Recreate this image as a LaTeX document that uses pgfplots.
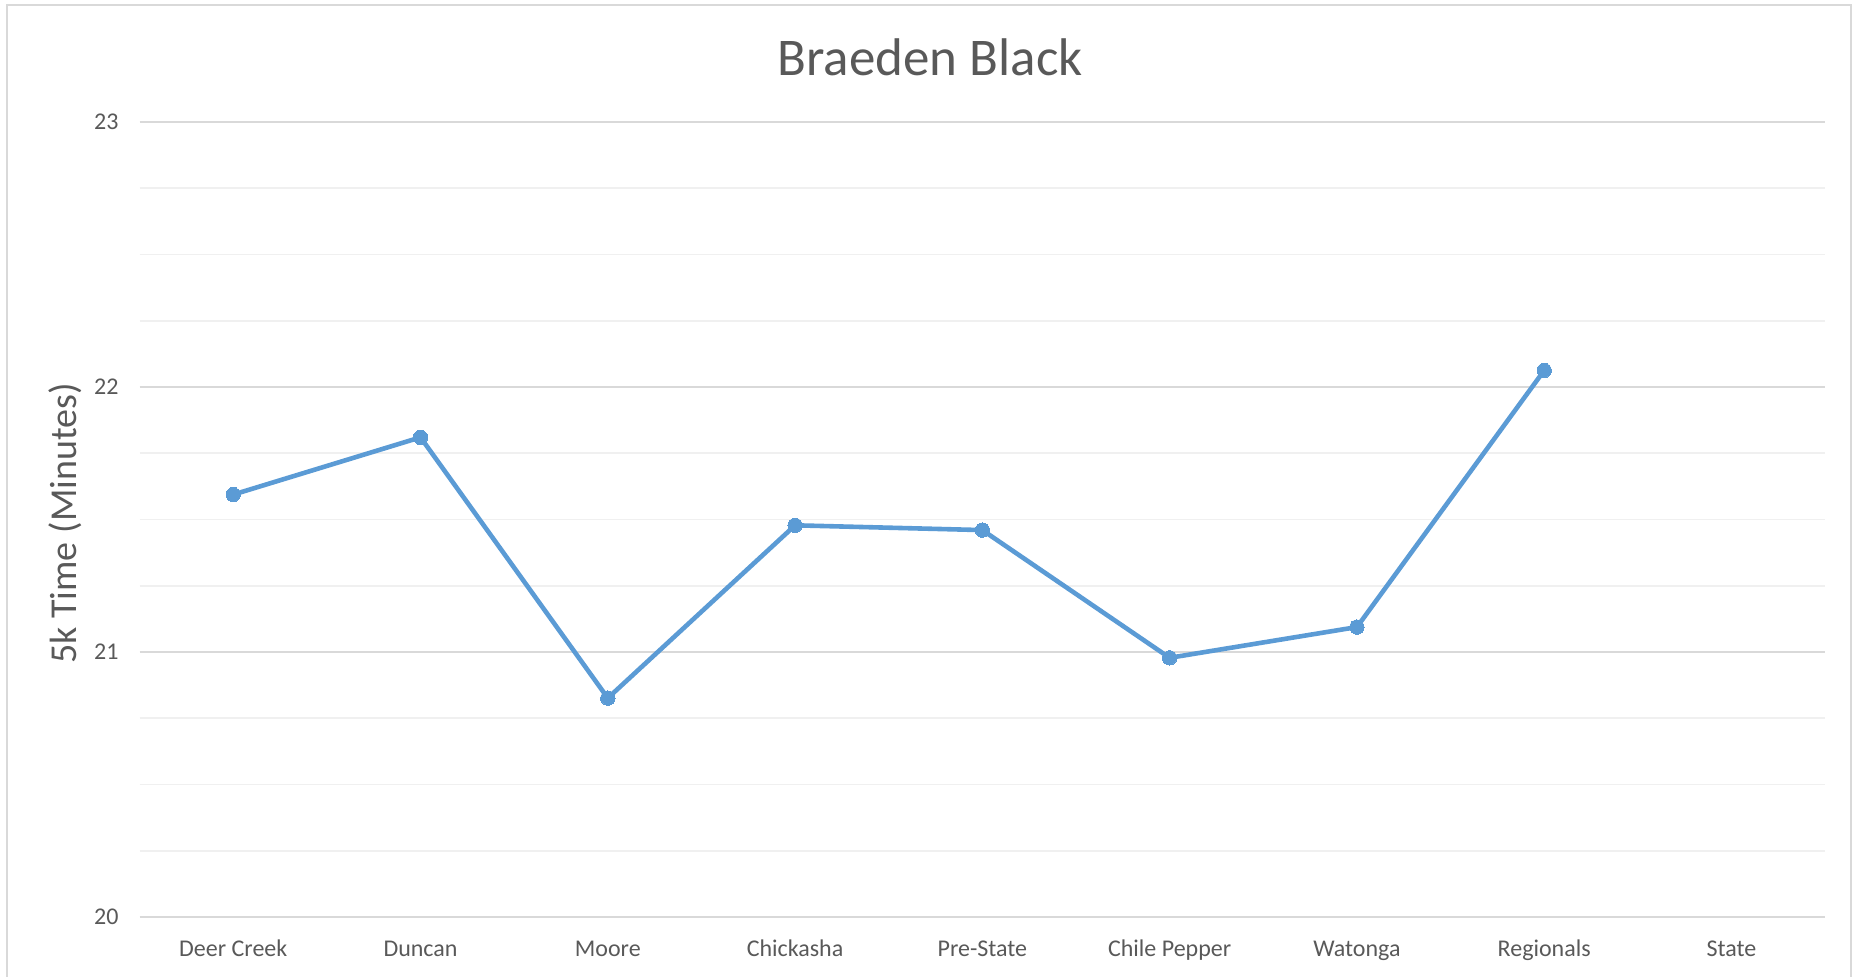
\documentclass[border=0pt]{standalone}
\usepackage{fontspec}
\setmainfont{Carlito}
\usepackage{pgfplots}
\pgfplotsset{compat=1.18}
\definecolor{linec}{HTML}{5B9BD5}
\definecolor{txt}{HTML}{595959}
\definecolor{majg}{HTML}{D9D9D9}
\definecolor{ming}{HTML}{F0F0F0}
\begin{document}
\begin{tikzpicture}
\useasboundingbox (0,0) rectangle (927.5pt,488.5pt);
\draw[majg, line width=1pt] (3.5pt,-5pt) rectangle (925.5pt,486pt);
\begin{axis}[
  at={(69.8pt,30pt)}, anchor=south west,
  scale only axis, width=842.75pt, height=397.5pt,
  xmin=-0.5, xmax=8.5, ymin=20, ymax=23,
  xtick={0,1,2,3,4,5,6,7,8},
  xticklabels={Deer Creek,Duncan,Moore,Chickasha,Pre-State,Chile Pepper,Watonga,Regionals,State},
  ytick={20,21,22,23},
  minor y tick num=3,
  ymajorgrids, yminorgrids,
  major grid style={majg, line width=0.8pt},
  minor grid style={ming, line width=0.8pt},
  axis line style={draw=none},
  tick style={draw=none},
  /pgf/number format/assume math mode=true,
  tick label style={font=\fontsize{12}{14}\selectfont, text=txt},
  xticklabel style={anchor=base, yshift=-20pt},
  yticklabel style={xshift=-7pt},
  ylabel={5k Time (Minutes)},
  every axis y label/.style={at={(rel axis cs:0,0.5)}, xshift=-37.3pt, yshift=-2pt, rotate=90, anchor=center, font=\fontsize{19}{22}\selectfont, text=txt},
  title={Braeden Black},
  title style={font=\fontsize{26.5}{30}\selectfont, text=txt, at={(0.469,1)}, anchor=center, yshift=26.5pt},
  clip=false,
]
\addplot[linec, line width=2.3pt, mark=*, mark size=3.6pt, mark options={fill=linec, draw=linec, line width=0pt}]
  coordinates {(0,21.594) (1,21.81) (2,20.826) (3,21.478) (4,21.46) (5,20.978) (6,21.094) (7,22.0625)};
\end{axis}
\end{tikzpicture}
\end{document}
